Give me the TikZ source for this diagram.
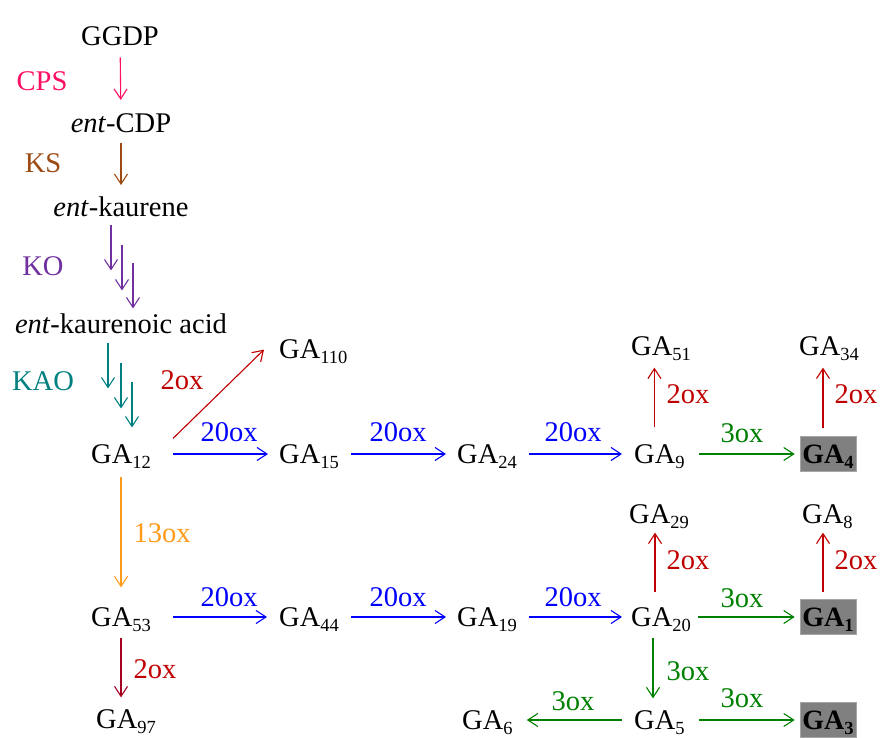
\documentclass[tikz,border=0pt]{standalone}
\usepackage{fontspec}
\setmainfont{Liberation Serif}
\usetikzlibrary{arrows.meta}
\definecolor{cpspink}{HTML}{FF0F64}
\definecolor{ksbrown}{HTML}{9C4A12}
\definecolor{kopurple}{HTML}{7030A0}
\definecolor{kaoteal}{HTML}{008080}
\definecolor{oxred}{HTML}{C00000}
\definecolor{oxdark}{HTML}{A50021}
\definecolor{oxblue}{HTML}{0000FF}
\definecolor{oxgreen}{HTML}{008000}
\definecolor{oxorange}{HTML}{FF9A1A}
\definecolor{boxgray}{HTML}{808080}
\definecolor{boxedge}{HTML}{A6A6A6}
\newcommand{\GAsub}[1]{GA\raisebox{-5pt}{\fontsize{18.5}{18.5}\selectfont #1}}

\begin{document}
\begin{tikzpicture}[x=1pt, y=-1pt,
  every node/.style={font=\fontsize{28.5}{33}\selectfont},
  cmp/.style={inner sep=0pt, anchor=base},
  ga/.style={inner sep=0pt, text depth=0pt, anchor=west},
  hit/.style={fill=boxgray, draw=boxedge, text depth=0pt, minimum height=35pt,
              inner xsep=2.5pt, font=\fontsize{28}{33}\selectfont\bfseries},
  lab/.style={inner sep=0pt, anchor=base},
  arr/.style={-{Straight Barb[length=10pt,width=13pt]}, line width=1.1pt},
  sh/.style 2 args={shorten <=#1pt, shorten >=#2pt}
]
\useasboundingbox (0,0) rectangle (892,738);

\node[cmp] (ggdp)  at (120,46)  {GGDP};
\node[cmp] (cdp)   at (121,133) {\textit{ent}-CDP};
\node[cmp] (kaur)  at (121,217) {\textit{ent}-kaurene};
\node[cmp] (kacid) at (121,333) {\textit{ent}-kaurenoic acid};

\node[ga]  (ga12)  at (91,454)  {\GAsub{12}};
\node[ga]  (ga110) at (279,349) {\GAsub{110}};
\node[ga]  (ga15)  at (279,454) {\GAsub{15}};
\node[ga]  (ga24)  at (457,454) {\GAsub{24}};
\node[ga]  (ga9)   at (634,454) {\GAsub{9}};
\node[hit] (ga4)   at (828,454) {\GAsub{4}};
\node[ga]  (ga51)  at (631,346) {\GAsub{51}};
\node[ga]  (ga34)  at (799,346) {\GAsub{34}};

\node[ga]  (ga53)  at (91,617)  {\GAsub{53}};
\node[ga]  (ga44)  at (279,617) {\GAsub{44}};
\node[ga]  (ga19)  at (457,617) {\GAsub{19}};
\node[ga]  (ga20)  at (631,617) {\GAsub{20}};
\node[hit] (ga1)   at (828,617) {\GAsub{1}};
\node[ga]  (ga29)  at (629,514) {\GAsub{29}};
\node[ga]  (ga8)   at (802,514) {\GAsub{8}};

\node[ga]  (ga97)  at (96,719)  {\GAsub{97}};
\node[ga]  (ga6)   at (462,720) {\GAsub{6}};
\node[ga]  (ga5)   at (634,720) {\GAsub{5}};
\node[hit] (ga3)   at (828,720) {\GAsub{3}};

\node[lab, text=cpspink]  (lcps) at (42,91)  {CPS};
\node[lab, text=ksbrown]  (lks)  at (43,173) {KS};
\node[lab, text=kopurple] (lko)  at (43,276) {KO};
\node[lab, text=kaoteal]  (lkao) at (43,390) {KAO};
\node[lab, text=oxred]    (l2a)  at (182,389) {2ox};
\node[lab, text=oxblue]   (l20a) at (229,441) {20ox};
\node[lab, text=oxblue]   (l20b) at (398,441) {20ox};
\node[lab, text=oxblue]   (l20c) at (573,441) {20ox};
\node[lab, text=oxgreen]  (l3a)  at (742,442) {3ox};
\node[lab, text=oxred]    (l2b)  at (688,403) {2ox};
\node[lab, text=oxred]    (l2c)  at (856,403) {2ox};
\node[lab, text=oxorange] (l13)  at (162,542) {13ox};
\node[lab, text=oxblue]   (l20d) at (229,606) {20ox};
\node[lab, text=oxblue]   (l20e) at (398,606) {20ox};
\node[lab, text=oxblue]   (l20f) at (573,606) {20ox};
\node[lab, text=oxgreen]  (l3b)  at (742,607) {3ox};
\node[lab, text=oxred]    (l2d)  at (688,569) {2ox};
\node[lab, text=oxred]    (l2e)  at (856,569) {2ox};
\node[lab, text=oxred]    (l2f)  at (155,678) {2ox};
\node[lab, text=oxgreen]  (l3c)  at (688,680) {3ox};
\node[lab, text=oxgreen]  (l3d)  at (573,710) {3ox};
\node[lab, text=oxgreen]  (l3e)  at (742,707) {3ox};

\draw[arr, cpspink, sh={11}{14}] (ggdp) -- (cdp);
\draw[arr, ksbrown, sh={10}{12}] (cdp) -- (kaur);
\foreach \dx/\dy in {-10/8, 1/28, 12/46}
  \draw[arr, kopurple] ([shift={(\dx,\dy)}]kaur.south) -- ++(0,45);
\foreach \dx/\dy in {-13/10, 0/30, 11/49}
  \draw[arr, kaoteal] ([shift={(\dx,\dy)}]kacid.south) -- ++(0,45);

\draw[arr, oxred] ([shift={(22,-6)}]ga12.north east) -- ([shift={(-15,-9)}]ga110.south west);
\draw[arr, oxblue, sh={22}{11}] (ga12) -- (ga15);
\draw[arr, oxblue, sh={12}{11}] (ga15) -- (ga24);
\draw[arr, oxblue, sh={12}{12}] (ga24) -- (ga9);
\draw[arr, oxgreen, sh={14}{5}] (ga9) -- (ga4);
\draw[arr, oxred, sh={17}{12}] ([xshift=-5pt]ga9.north) -- ([xshift=-5pt]ga9.north |- ga51.south);
\draw[arr, oxred, sh={8}{12}] ([xshift=-5pt]ga4.north) -- ([xshift=-5pt]ga4.north |- ga34.south);

\draw[arr, oxorange, sh={13}{20}] (ga12) -- (ga53);
\draw[arr, oxblue, sh={22}{12}] (ga53) -- (ga44);
\draw[arr, oxblue, sh={12}{11}] (ga44) -- (ga19);
\draw[arr, oxblue, sh={12}{9}] (ga19) -- (ga20);
\draw[arr, oxgreen, sh={7}{5}] (ga20) -- (ga1);
\draw[arr, oxred, sh={15}{9}] ([xshift=-6pt]ga20.north) -- ([xshift=-6pt]ga20.north |- ga29.south);
\draw[arr, oxred, sh={7}{9}] ([xshift=-5pt]ga1.north) -- ([xshift=-5pt]ga1.north |- ga8.south);

\draw[arr, oxdark, sh={11}{12}] (ga53) -- (ga53 |- ga97.north);
\draw[arr, oxgreen, sh={11}{12}] ([xshift=-8pt]ga20.south) -- ([xshift=-8pt]ga20.south |- ga5.north);
\draw[arr, oxgreen, sh={12}{14}] (ga5) -- (ga6);
\draw[arr, oxgreen, sh={14}{5}] (ga5) -- (ga3);
\end{tikzpicture}
\end{document}
